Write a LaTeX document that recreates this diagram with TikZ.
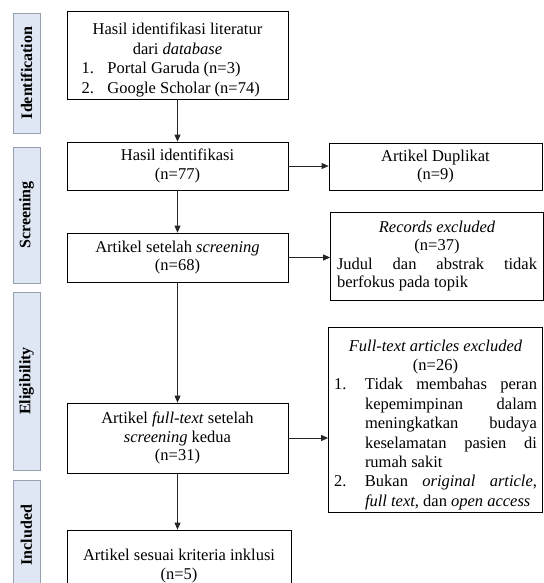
\documentclass[tikz,border=0pt]{standalone}
\usepackage{fontspec}
\setmainfont{Liberation Serif}
\usetikzlibrary{arrows.meta}
\definecolor{phasefill}{RGB}{222,231,243}
\definecolor{phaseline}{RGB}{150,160,178}
\begin{document}
\begin{tikzpicture}[
    x=1pt, y=-1pt,
    every node/.style={font=\fontsize{16.5}{18.5}\selectfont},
    box/.style={draw, line width=0.8pt, minimum width=221pt, align=center},
    sidebox/.style={draw, line width=0.8pt, minimum width=213pt},
    phase/.style={draw=phaseline, fill=phasefill, rotate=90, minimum height=27pt,
                  font=\fontsize{16}{18}\selectfont\bfseries},
    arr/.style={-{Triangle[length=7pt,width=6pt]}, line width=0.8pt, black!85}
]
  \useasboundingbox (0,0) rectangle (543,583);

  % Fase di sisi kiri
  \node[phase, minimum width=120pt] (pid) at (26.5,73) {Identification};
  \node[phase, minimum width=136pt] (psc) at (26.5,215) {Screening};
  \node[phase, minimum width=178pt] (pel) at (26.5,381) {Eligibility};
  \node[phase, minimum width=110pt] (pin) at (26.5,535) {Included};

  % Alur utama
  \node[box, minimum height=88pt, inner ysep=1pt, font=\fontsize{16.5}{19.5}\selectfont] (lit) at (177.5,55)
       {\rule{0pt}{22pt}Hasil identifikasi literatur\\ dari \textit{database}\\
        \makebox[192pt][l]{\makebox[26pt][l]{1.}Portal Garuda (n=3)}\\
        \makebox[192pt][l]{\makebox[26pt][l]{2.}Google Scholar (n=74)}};
  \node[box, minimum height=48pt] (ident) at (177.5,166) {Hasil identifikasi\\ (n=77)};
  \node[box, minimum height=49pt] (scr) at (177.5,257.5) {Artikel setelah \textit{screening}\\ (n=68)};
  \node[box, minimum height=70pt] (full) at (177.5,438)
       {Artikel \textit{full-text} setelah\\ \textit{screening} kedua\\ (n=31)};
  \node[box, minimum width=224pt, minimum height=72pt] (incl) at (179,566)
       {Artikel sesuai kriteria inklusi\\ (n=5)};

  % Artikel yang dikeluarkan
  \node[sidebox, minimum height=47pt, align=center] (dup) at (435.5,166.5) {Artikel Duplikat\\ (n=9)};
  \node[sidebox, minimum height=88pt, text width=200pt, align=justify] (rec) at (437,256)
       {{\centering\textit{Records excluded}\par (n=37)\par}
        Judul dan abstrak tidak berfokus pada topik\par};
  \node[sidebox, minimum width=214pt, minimum height=185pt, inner ysep=1pt, text width=203pt,
        align=justify] (ftx) at (435.5,419.5)
       {\fontsize{16.5}{19.4}\selectfont\hyphenpenalty=10000 \exhyphenpenalty=10000
        {\centering\rule{0pt}{22pt}\textit{Full-text articles excluded}\par (n=26)\par}
        \hangindent=31pt\hangafter=1\noindent\makebox[31pt][l]{1.}Tidak membahas peran
        kepemimpinan dalam meningkatkan budaya keselamatan pasien di rumah sakit\par
        \hangindent=31pt\hangafter=1\noindent\makebox[31pt][l]{2.}Bukan \textit{original article},
        \textit{full text}, dan \textit{open access}\par};

  % Panah
  \draw[arr] (lit) -- (ident);
  \draw[arr] (ident) -- (scr);
  \draw[arr] (scr) -- (full);
  \draw[arr] (full.south) -- (full.south |- incl.north);
  \draw[arr] (ident.east) -- (ident.east -| dup.west);
  \draw[arr] (scr.east) -- (scr.east -| rec.west);
  \draw[arr] (full.east) -- (full.east -| ftx.west);
\end{tikzpicture}
\end{document}
